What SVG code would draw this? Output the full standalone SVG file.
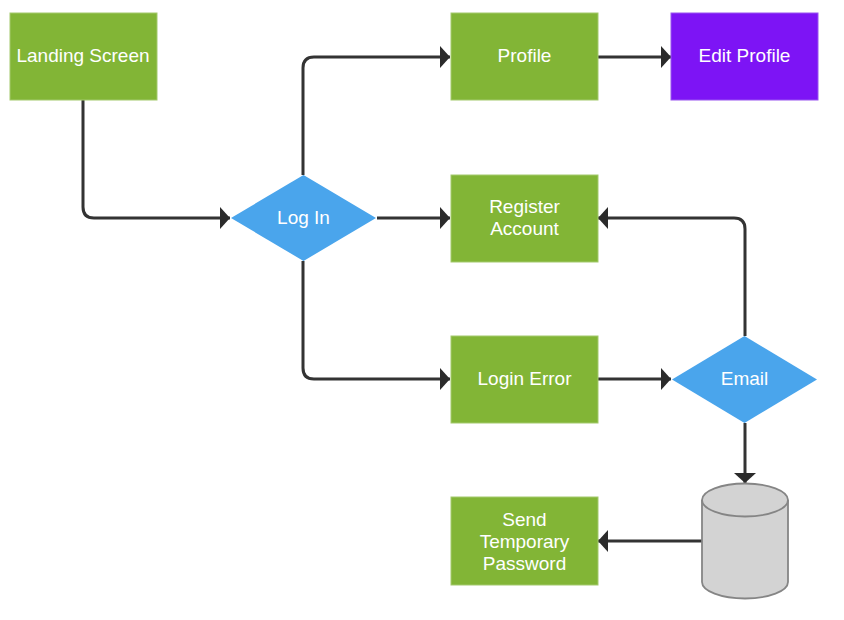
<svg xmlns="http://www.w3.org/2000/svg" width="844" height="620" viewBox="0 0 844 620">
<style>
.g{fill:#82b536;stroke:#a3c96d;stroke-width:1}
.b{fill:#4aa5ec}
.p{fill:#7d14f5;stroke:#9a55f0;stroke-width:1}
.t{font-family:"Liberation Sans",Arial,sans-serif;font-size:19px;fill:#fff;text-anchor:middle}
.c{fill:none;stroke:#333;stroke-width:3}
.cy{fill:#d3d3d3;stroke:#858585;stroke-width:1.800}
</style>
<defs><marker id="a" markerUnits="userSpaceOnUse" markerWidth="12" markerHeight="22" refX="10" refY="11" orient="auto"><path d="M0 0L10 11L0 22Z" fill="#2b2b2b"/></marker></defs>
<rect width="844" height="620" fill="#fff"/>
<g id="connectors">
<path class="c" marker-end="url(#a)" d="M83 100V207Q83 218 94 218H230"/>
<path class="c" marker-end="url(#a)" d="M303 175V68Q303 57 314 57H450"/>
<path class="c" marker-end="url(#a)" d="M377 218H450"/>
<path class="c" marker-end="url(#a)" d="M303 261V368Q303 379 314 379H450"/>
<path class="c" marker-end="url(#a)" d="M598 57H671"/>
<path class="c" marker-end="url(#a)" d="M598 379H671"/>
<path class="c" marker-end="url(#a)" d="M745 336V229Q745 218 734 218H598"/>
<path class="c" marker-end="url(#a)" d="M745 423V483"/>
<path class="c" marker-end="url(#a)" d="M702 541H598"/>
</g>
<g id="landing"><rect class="g" x="10" y="13" width="147" height="87"/><text class="t" x="83" y="62">Landing Screen</text></g>
<g id="login"><path class="b" d="M231 218L303.500 175L376 218L303.500 261Z"/><text class="t" x="303.500" y="224">Log In</text></g>
<g id="profile"><rect class="g" x="451" y="13" width="147" height="87"/><text class="t" x="524.500" y="62">Profile</text></g>
<g id="edit"><rect class="p" x="671" y="13" width="147" height="87"/><text class="t" x="744.500" y="62">Edit Profile</text></g>
<g id="register"><rect class="g" x="451" y="175" width="147" height="87"/><text class="t" x="524.500" y="213">Register</text><text class="t" x="524.500" y="235">Account</text></g>
<g id="error"><rect class="g" x="451" y="336" width="147" height="87"/><text class="t" x="524.500" y="385">Login Error</text></g>
<g id="email"><path class="b" d="M672 379.500L744.500 336L817 379.500L744.500 423Z"/><text class="t" x="744.500" y="385">Email</text></g>
<g id="send"><rect class="g" x="451" y="497" width="147" height="88"/><text class="t" x="524.500" y="526">Send</text><text class="t" x="524.500" y="548">Temporary</text><text class="t" x="524.500" y="570">Password</text></g>
<g id="database"><path class="cy" d="M702 500A43 16.500 0 0 1 788 500V582A43 16.500 0 0 1 702 582Z"/><path class="cy" style="fill:none" d="M702 500A43 16.500 0 0 0 788 500"/></g>
</svg>
